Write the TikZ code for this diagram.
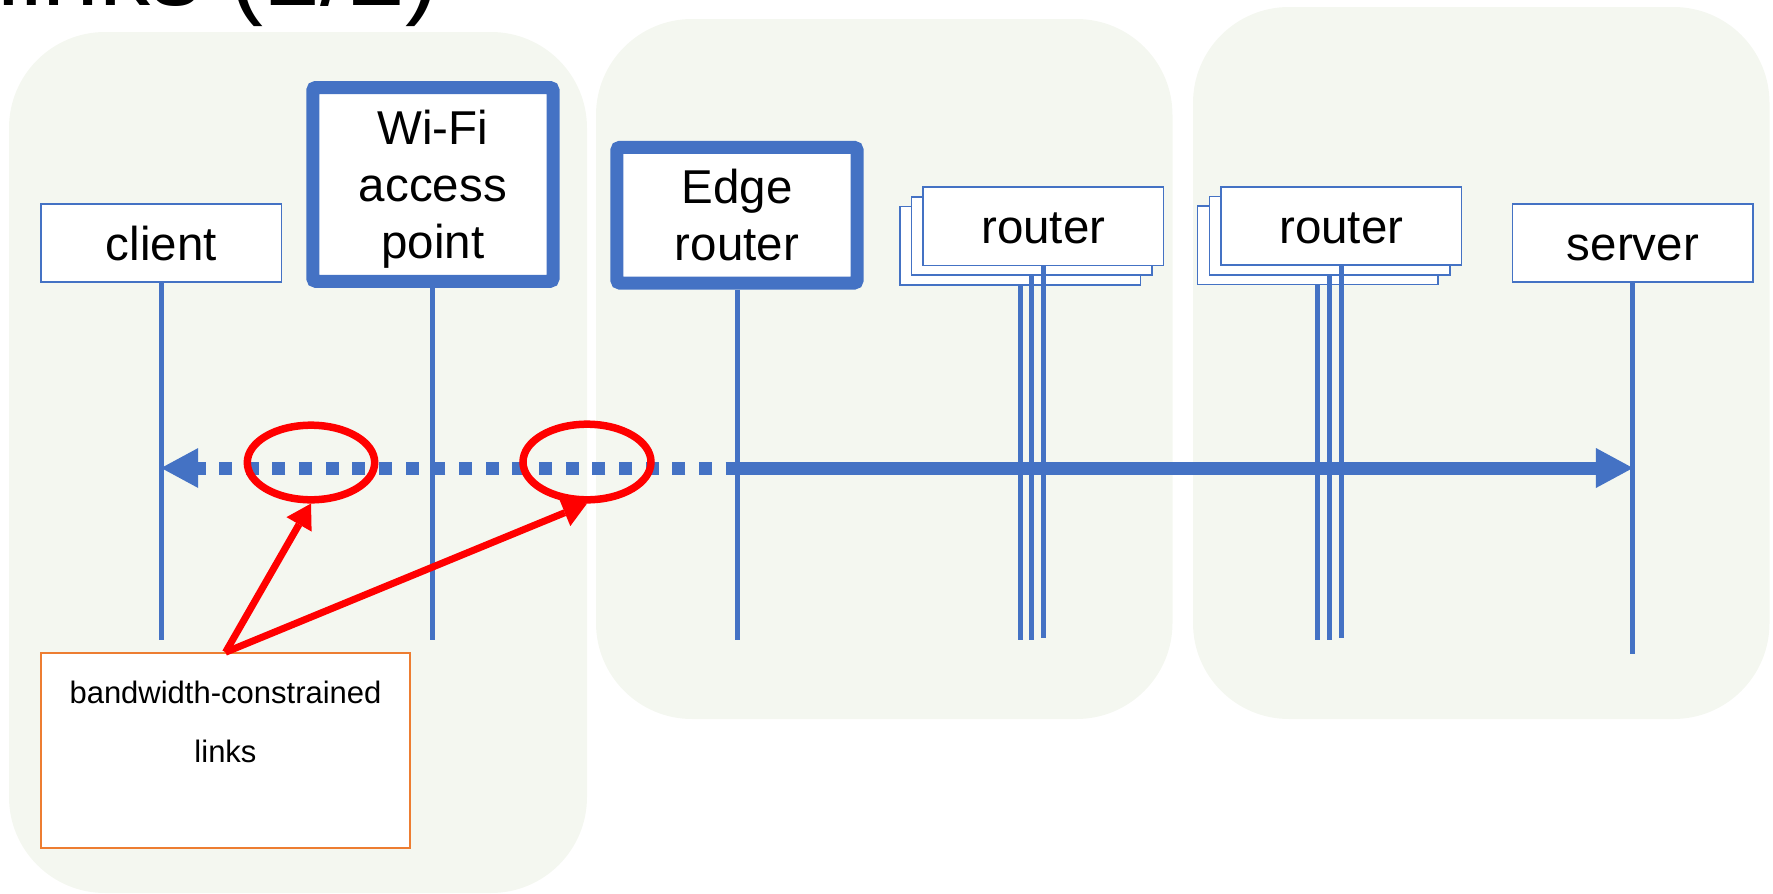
\documentclass[tikz,border=0pt]{standalone}
\usepackage{fontspec}
\setmainfont{Liberation Sans}
\usetikzlibrary{arrows.meta,shapes.geometric}

\definecolor{ppblue}{HTML}{4472C4}
\definecolor{pporange}{HTML}{ED7D31}
\definecolor{panelfill}{HTML}{F4F7F0}

\newcommand\lblfont{\fontsize{23.75pt}{28.5pt}\selectfont}
\newcommand\notetextfont{\fontsize{15.5pt}{29.5pt}\selectfont}
\newcommand\slidetitlefont{\fontsize{51pt}{60pt}\selectfont}
\newcommand\lblstrut{\rule[-5.65pt]{0pt}{28.5pt}}
\newcommand\notestrut{\rule[-9pt]{0pt}{29.5pt}}

\tikzset{
  panel/.style={fill=panelfill, draw=none, rounded corners=48pt},
  actor/.style={draw=ppblue, line width=0.75pt, fill=white, inner sep=0pt,
    minimum width=120.25pt, minimum height=39.2pt, font=\lblfont, align=center},
  hub/.style={draw=ppblue, line width=6.5pt, fill=white, rounded corners=1.5pt,
    inner sep=0pt, minimum width=120.1pt, font=\lblfont, align=center},
  lifeline/.style={draw=ppblue, line width=2.5pt},
  flowdots/.style={draw=ppblue, line width=6.5pt,
    dash pattern=on 6.5pt off 6.83pt, dash phase=6.5pt,
    -{Triangle[length=18.5pt,width=20pt,line width=0pt]}},
  flowsolid/.style={draw=ppblue, line width=6.5pt,
    -{Triangle[length=18.5pt,width=20pt,line width=0pt]}},
  callout/.style={ellipse, draw=red, line width=3.75pt, inner sep=0pt},
  pointer/.style={draw=red, line width=3.5pt,
    -{Triangle[length=12pt,width=14.5pt,line width=0pt]}},
  note/.style={draw=pporange, line width=0.75pt, fill=white, inner sep=0pt,
    minimum width=184.5pt, minimum height=97.5pt, font=\notetextfont, align=center}
}

\begin{document}
\begin{tikzpicture}[x=0.5pt, y=-0.5pt]
\useasboundingbox (0,0) rectangle (1773,894);
\clip (0,0) rectangle (1773,894);

% slide title, partly above the page edge
\node[anchor=base east, inner sep=0pt, font=\slidetitlefont] (title) at (440,5) {links (1/2)};

% shaded groups
\fill[panel] (9,32) rectangle (587,893);
\fill[panel] (596,19) rectangle (1172.5,719);
\fill[panel] (1193,7) rectangle (1769.5,719);

% end points
\node[actor] (client) at (161.2,243) {client\lblstrut};
\node[hub, minimum height=96.9pt] (wifi) at (432.9,184.4) {Wi-Fi\lblstrut\\access\lblstrut\\point\lblstrut};
\node[hub, minimum height=67.85pt] (edge) at (737,215.2) {Edge\lblstrut\\router\lblstrut};
\node[actor] (server) at (1632.9,243) {server\lblstrut};

% first router stack (back to front)
\node[actor] (ra3) at (1020.1,245.7) {};
\node[actor] (ra2) at (1031.7,236) {};
\node[actor] (ra1) at (1043.3,226.3) {router\lblstrut};

% second router stack (back to front)
\node[actor] (rb3) at (1317.7,245.4) {};
\node[actor] (rb2) at (1329.5,235.7) {};
\node[actor] (rb1) at (1341.3,226) {router\lblstrut};

% lifeline ends
\coordinate (client-end) at (client.south |- 0,640);
\coordinate (wifi-end)   at (wifi.south |- 0,640);
\coordinate (edge-end)   at (edge.south |- 0,640);
\coordinate (ra3-end)    at (ra3.south |- 0,640);
\coordinate (ra2-end)    at (ra2.south |- 0,640);
\coordinate (ra1-end)    at (ra1.south |- 0,638);
\coordinate (rb3-end)    at (rb3.south |- 0,640);
\coordinate (rb2-end)    at (rb2.south |- 0,640);
\coordinate (rb1-end)    at (rb1.south |- 0,638);
\coordinate (server-end) at (server.south |- 0,654);

\draw[lifeline] (client.south) -- (client-end);
\draw[lifeline] (wifi.south) -- (wifi-end);
\draw[lifeline] (edge.south) -- (edge-end);
\draw[lifeline] (ra3.south) -- (ra3-end);
\draw[lifeline] (ra2.south) -- (ra2-end);
\draw[lifeline] (ra1.south) -- (ra1-end);
\draw[lifeline] (rb3.south) -- (rb3-end);
\draw[lifeline] (rb2.south) -- (rb2-end);
\draw[lifeline] (rb1.south) -- (rb1-end);
\draw[lifeline] (server.south) -- (server-end);

% end-to-end flow
\coordinate (client-hit) at (client.south |- 0,468);
\coordinate (server-hit) at (server.south |- 0,468);
\coordinate (link-split) at (725.7,468);
\draw[flowdots] (link-split) -- (client-hit);
\draw[flowsolid] (link-split) -- (server-hit);

% highlighted links
\node[callout, minimum width=63.7pt, minimum height=37.3pt] (hl1) at (311,462.5) {};
\node[callout, minimum width=64pt, minimum height=37.8pt] (hl2) at (587,462) {};

% annotation
\node[note] (remark) at (225.5,750.5) {bandwidth-constrained\notestrut\\links\notestrut\\\notestrut};
\draw[pointer] (remark.north) -- (hl1.south);
\draw[pointer] (remark.north) -- (hl2.south);
\end{tikzpicture}
\end{document}
